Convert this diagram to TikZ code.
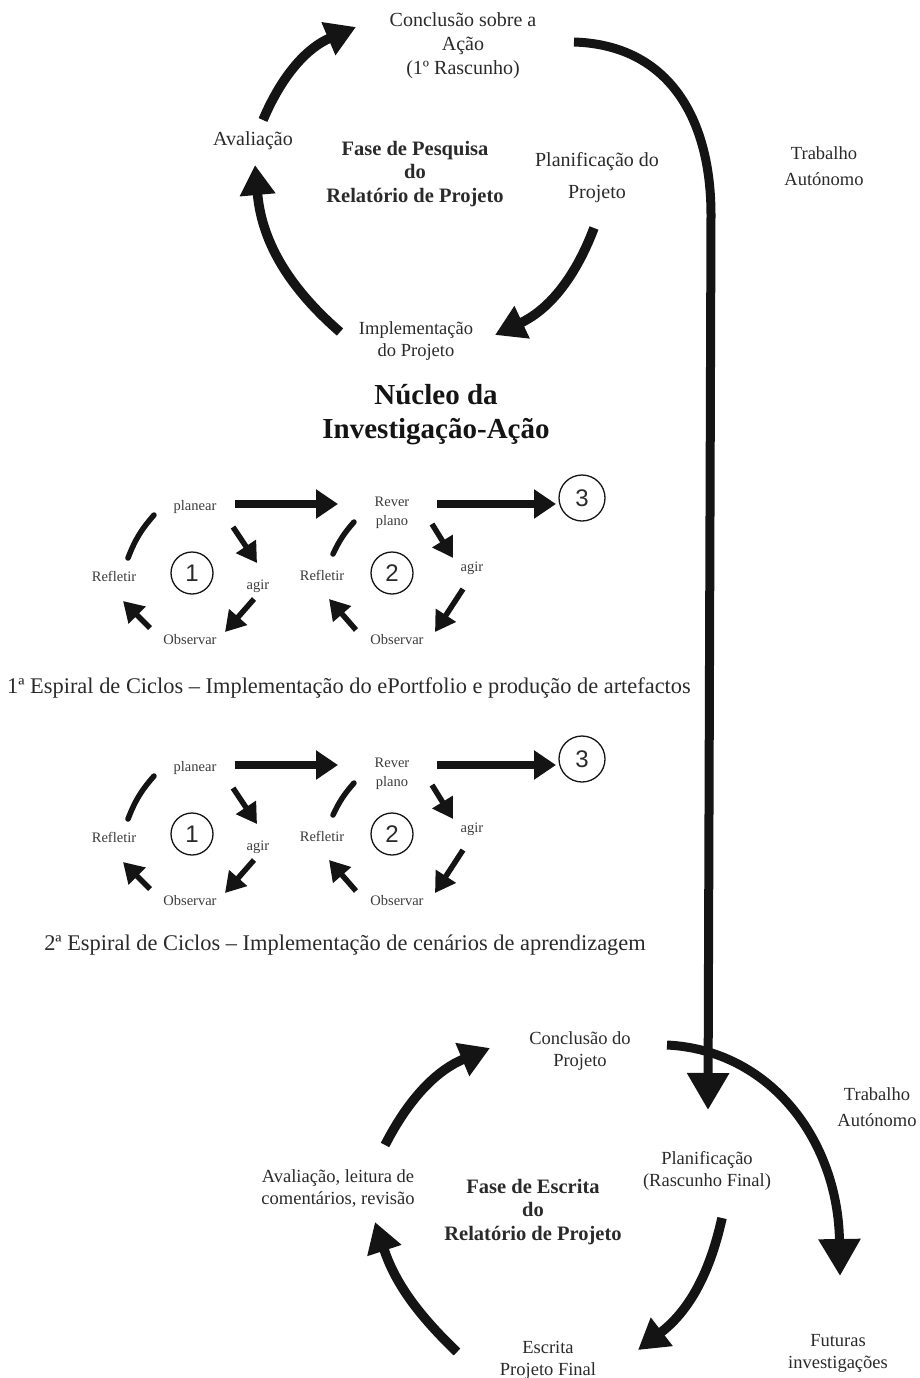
\documentclass[tikz,border=0pt]{standalone}
\usepackage{fontspec}
\setmainfont{Liberation Serif}
\newfontfamily\numfont{Liberation Sans}
\usetikzlibrary{arrows.meta}
\definecolor{ink}{HTML}{141414}
\definecolor{txt}{HTML}{2A2A2A}
\definecolor{lite}{HTML}{3C3C3C}

\begin{document}
\begin{tikzpicture}[x=1pt,y=-1pt,
  lbl/.style={font=\fontsize{18.5}{22}\selectfont, text=txt, align=center, inner sep=0pt},
  lblbig/.style={font=\fontsize{20}{24}\selectfont, text=txt, align=center, inner sep=0pt},
  ttl/.style={font=\fontsize{20.5}{23.5}\selectfont\bfseries, text=txt, align=center, inner sep=0pt},
  headline/.style={font=\fontsize{29}{34}\selectfont\bfseries, text=ink, align=center, inner sep=0pt},
  captext/.style={font=\fontsize{22.4}{26}\selectfont, text=txt, inner sep=0pt},
  sm/.style={font=\fontsize{14.5}{19}\selectfont, text=lite, align=center, inner sep=0pt},
  num/.style={circle, draw=ink, line width=1.3pt, minimum size=42pt, inner sep=0pt,
              font=\numfont\fontsize{24}{24}\selectfont, text=txt},
  cyc/.style={draw=ink, line width=9.5pt, -{Triangle[width=34pt,length=30pt]}},
  bigarr/.style={draw=ink, line width=9pt, -{Triangle[width=40pt,length=37pt]}},
  stra/.style={draw=ink, line width=8pt, -{Triangle[width=28pt,length=22pt]}},
  sarr/.style={draw=ink, line width=5.5pt, -{Triangle[width=23pt,length=20pt]}},
  stub/.style={draw=ink, line width=5.5pt, line cap=round},
]
\useasboundingbox (0,0) rectangle (919,1378);

% ---------- research phase cycle ----------
\node[lblbig] (concl1) at (463,46) {Conclusão sobre a\\Ação\\(1º Rascunho)};
\node[lblbig] (aval1) at (253,141) {Avaliação};
\node[ttl] (fase1) at (415,174) {Fase de Pesquisa\\do\\Relatório de Projeto};
\node[lblbig] (plan1) at (597,178) {Planificação do\\[8pt]Projeto};
\node[lbl] (impl1) at (416,341) {Implementação\\do Projeto};
\node[lbl] (trab1) at (824,166) {Trabalho\\[4pt]Autónomo};

\coordinate (t1s) at (263,120); \coordinate (t1e) at (356,27);
\coordinate (t2s) at (594,228); \coordinate (t2e) at (495,335);
\coordinate (t3s) at (340,332); \coordinate (t3e) at (255,165);
\draw[cyc] (t1s) to[bend left=22] (t1e);
\draw[cyc] (t2s) to[bend left=22] (t2e);
\draw[cyc] (t3s) to[bend left=22] (t3e);

% long connector down to the writing phase
\coordinate (bs) at (574,42); \coordinate (bk) at (711,215); \coordinate (be) at (708,1110);
\draw[bigarr] (bs) .. controls (670,45) and (711,120) .. (bk) -- (be);

% ---------- core of the action research ----------
\node[headline] (nucleo) at (436,415) {Núcleo da\\Investigação-Ação};

\foreach \s/\dy in {a/0, b/261} {
\begin{scope}[shift={(0,\dy)}]
  \node[sm] (pl\s) at (195,507) {planear};
  \node[sm] (rf\s) at (114,576) {Refletir};
  \node[num] (na\s) at (192,573) {1};
  \node[sm] (ag\s) at (258,586) {agir};
  \node[sm] (ob\s) at (190,640) {Observar};
  \node[sm] (rv\s) at (392,513) {Rever\\plano};
  \node[sm] (rfb\s) at (322,575) {Refletir};
  \node[num] (nb\s) at (392,573) {2};
  \node[sm] (agb\s) at (472,568) {agir};
  \node[sm] (obb\s) at (397,640) {Observar};
  \node[num, minimum size=46pt] (nc\s) at (582,498) {3};

  \coordinate (h1\s) at (235,504); \coordinate (h2\s) at (338,504);
  \coordinate (h3\s) at (437,504); \coordinate (h4\s) at (556,504);
  \draw[stra] (h1\s) -- (h2\s);
  \draw[stra] (h3\s) -- (h4\s);

  % first cycle
  \coordinate (p1\s) at (128,558); \coordinate (p2\s) at (154,515);
  \coordinate (p3\s) at (233,527); \coordinate (p4\s) at (257,563);
  \coordinate (p5\s) at (254,599); \coordinate (p6\s) at (225,632);
  \coordinate (p7\s) at (150,628); \coordinate (p8\s) at (123,601);
  \draw[stub] (p1\s) to[bend left=10] (p2\s);
  \draw[sarr] (p3\s) -- (p4\s);
  \draw[sarr] (p5\s) -- (p6\s);
  \draw[sarr] (p7\s) -- (p8\s);

  % second cycle
  \coordinate (q1\s) at (333,554); \coordinate (q2\s) at (354,522);
  \coordinate (q3\s) at (432,524); \coordinate (q4\s) at (453,558);
  \coordinate (q5\s) at (463,589); \coordinate (q6\s) at (435,632);
  \coordinate (q7\s) at (356,630); \coordinate (q8\s) at (329,599);
  \draw[stub] (q1\s) to[bend left=8] (q2\s);
  \draw[sarr] (q3\s) -- (q4\s);
  \draw[sarr] (q5\s) -- (q6\s);
  \draw[sarr] (q7\s) -- (q8\s);
\end{scope}
}

\node[captext] (cap1) at (349,688) {1ª Espiral de Ciclos – Implementação do ePortfolio e produção de artefactos};
\node[captext] (cap2) at (345,945) {2ª Espiral de Ciclos – Implementação de cenários de aprendizagem};

% ---------- writing phase cycle ----------
\node[lbl] (concl2) at (580,1051) {Conclusão do\\Projeto};
\node[lbl] (trab2) at (877,1107) {Trabalho\\[4pt]Autónomo};
\node[lbl] (plan2) at (707,1171) {Planificação\\(Rascunho Final)};
\node[lbl] (aval2) at (338,1188) {Avaliação, leitura de\\comentários, revisão};
\node[ttl] (fase2) at (533,1212) {Fase de Escrita\\do\\Relatório de Projeto};
\node[lbl] (escr) at (548,1360) {Escrita\\Projeto Final};
\node[lbl] (fut) at (838,1353) {Futuras\\investigações};

\coordinate (w1s) at (385,1145); \coordinate (w1e) at (490,1048);
\coordinate (w2s) at (722,1218); \coordinate (w2e) at (638,1350);
\coordinate (w3s) at (457,1352); \coordinate (w3e) at (375,1222);
\draw[cyc] (w1s) to[bend left=20] (w1e);
\draw[cyc] (w2s) to[bend left=20] (w2e);
\draw[cyc] (w3s) to[bend left=14] (w3e);

\coordinate (fs) at (667,1045); \coordinate (fe) at (840,1276);
\draw[bigarr] (fs) .. controls (770,1050) and (838,1140) .. (fe);
\end{tikzpicture}
\end{document}
